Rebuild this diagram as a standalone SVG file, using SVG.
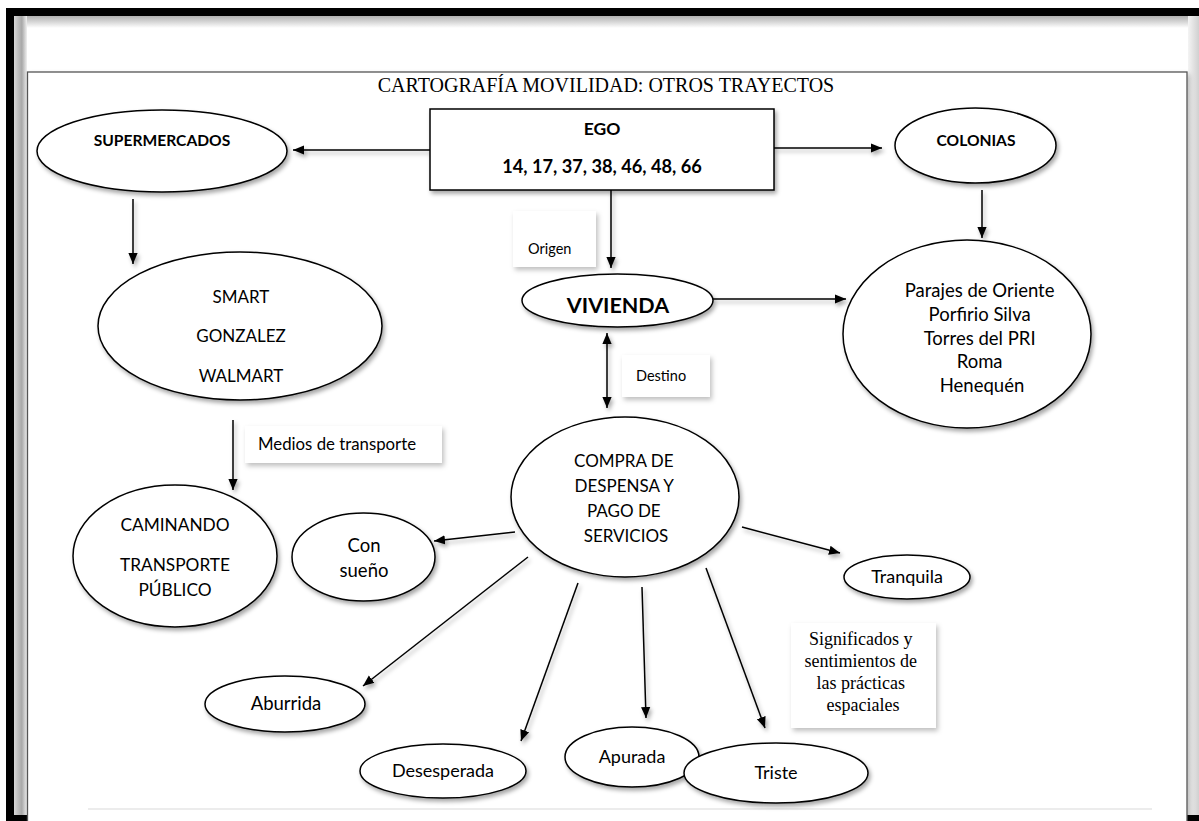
<svg xmlns="http://www.w3.org/2000/svg" width="1199" height="821" viewBox="0 0 1199 821">
  <defs>
    <style>
      .node { fill: #fff; stroke: #000; stroke-width: 1.5; }
      .label-box { fill: #fff; stroke: none; }
      .t { font-family: Lato, "Open Sans", "Liberation Sans", sans-serif; fill: #000; text-anchor: middle; }
      .s { font-family: Lato, "Open Sans", "Liberation Sans", sans-serif; fill: #000; text-anchor: start; }
      .b { font-weight: bold; }
      .serif { font-family: "Liberation Serif", "Times New Roman", serif; fill: #000; text-anchor: middle; }
      .conn line { stroke: #000; stroke-width: 1.5; fill: none; }
    </style>
    <filter id="shadow" filterUnits="userSpaceOnUse" x="0" y="0" width="1199" height="821">
      <feDropShadow dx="2" dy="3" stdDeviation="2" flood-color="#000" flood-opacity="0.35"/>
    </filter>
    <filter id="soft" filterUnits="userSpaceOnUse" x="0" y="0" width="1199" height="821">
      <feDropShadow dx="2" dy="3" stdDeviation="2.5" flood-color="#000" flood-opacity="0.25"/>
    </filter>
    <marker id="arrow" viewBox="0 0 10 10" refX="10" refY="5" markerWidth="11" markerHeight="11" markerUnits="userSpaceOnUse" orient="auto-start-reverse">
      <path d="M0,0.8 L10,5 L0,9.2 z" fill="#000"/>
    </marker>
    <linearGradient id="topShade" x1="0" y1="0" x2="0" y2="1">
      <stop offset="0" stop-color="#b0b0b0"/>
      <stop offset="1" stop-color="#ffffff"/>
    </linearGradient>
    <linearGradient id="leftShade" x1="0" y1="0" x2="1" y2="0">
      <stop offset="0" stop-color="#d8d8d8"/>
      <stop offset="0.6" stop-color="#a8a8a8"/>
      <stop offset="1" stop-color="#f0f0f0"/>
    </linearGradient>
    <linearGradient id="rightShade" x1="0" y1="0" x2="1" y2="0">
      <stop offset="0" stop-color="#f4f4f4"/>
      <stop offset="1" stop-color="#d0d0d0"/>
    </linearGradient>
  </defs>

  <!-- page background -->
  <rect x="0" y="0" width="1199" height="821" fill="#fff"/>

  <!-- page frame -->
  <g id="frame">
    <rect x="14" y="16" width="1185" height="12" fill="url(#topShade)"/>
    <rect x="14" y="16" width="13" height="799" fill="url(#leftShade)"/>
    <rect x="1188" y="16" width="11" height="799" fill="url(#rightShade)"/>
    <rect x="6" y="8" width="1193" height="8" fill="#000"/>
    <rect x="6" y="8" width="8" height="813" fill="#000"/>
    <rect x="6" y="815" width="1193" height="6" fill="#000"/>
    <rect x="27.5" y="72" width="1159.5" height="760" fill="#fff" stroke="#555" stroke-width="1.3" filter="url(#soft)"/>
    <line x1="88" y1="809" x2="1152" y2="809" stroke="#e6e6e6" stroke-width="1.5"/>
  </g>

  <!-- title -->
  <text id="title" class="serif" x="606" y="92" font-size="20">CARTOGRAFÍA MOVILIDAD: OTROS TRAYECTOS</text>

  <!-- connectors -->
  <g id="connectors" class="conn" filter="url(#shadow)">
    <line x1="430" y1="150" x2="293" y2="150" marker-end="url(#arrow)"/>
    <line x1="774" y1="148" x2="882" y2="148" marker-end="url(#arrow)"/>
    <line x1="133" y1="199" x2="133" y2="264" marker-end="url(#arrow)"/>
    <line x1="982" y1="190" x2="982" y2="238" marker-end="url(#arrow)"/>
    <line x1="611" y1="190" x2="611" y2="268" marker-end="url(#arrow)"/>
    <line x1="713" y1="299" x2="846" y2="299" marker-end="url(#arrow)"/>
    <line x1="607" y1="333" x2="607" y2="408" marker-start="url(#arrow)" marker-end="url(#arrow)"/>
    <line x1="233" y1="420" x2="233" y2="490" marker-end="url(#arrow)"/>
    <line x1="515" y1="532" x2="434" y2="541" marker-end="url(#arrow)"/>
    <line x1="528" y1="557" x2="363" y2="686" marker-end="url(#arrow)"/>
    <line x1="578" y1="583" x2="521" y2="741" marker-end="url(#arrow)"/>
    <line x1="642" y1="587" x2="646" y2="718" marker-end="url(#arrow)"/>
    <line x1="706" y1="568" x2="765" y2="728" marker-end="url(#arrow)"/>
    <line x1="742" y1="527" x2="840" y2="553" marker-end="url(#arrow)"/>
  </g>

  <!-- connector captions -->
  <g id="label-origen">
    <rect class="label-box" x="513" y="211" width="83" height="56" filter="url(#soft)"/>
    <text class="s" x="528" y="254" font-size="14.5">Origen</text>
  </g>
  <g id="label-destino">
    <rect class="label-box" x="622" y="355" width="88" height="42" filter="url(#soft)"/>
    <text class="s" x="636" y="381" font-size="14.5">Destino</text>
  </g>
  <g id="label-medios">
    <rect class="label-box" x="245" y="426" width="197" height="37" filter="url(#soft)"/>
    <text class="s" x="258" y="450" font-size="16.8">Medios de transporte</text>
  </g>
  <g id="label-significados">
    <rect class="label-box" x="791" y="623" width="145" height="105" filter="url(#soft)"/>
    <text class="serif" font-size="18">
      <tspan x="863" y="645">Significados y</tspan>
      <tspan x="863" y="667">sentimientos de</tspan>
      <tspan x="863" y="689">las prácticas</tspan>
      <tspan x="863" y="711">espaciales</tspan>
    </text>
  </g>

  <!-- nodes -->
  <g id="ego">
    <rect class="node" x="430" y="109" width="344" height="81" filter="url(#shadow)"/>
    <text class="t b" x="602" y="135" font-size="17.5">EGO</text>
    <text class="t b" x="602" y="173" font-size="18.2">14, 17, 37, 38, 46, 48, 66</text>
  </g>

  <g id="supermercados">
    <ellipse class="node" cx="162" cy="151" rx="125" ry="41" filter="url(#shadow)"/>
    <text class="t b" x="162" y="146" font-size="15.6">SUPERMERCADOS</text>
  </g>

  <g id="colonias">
    <ellipse class="node" cx="975.5" cy="145.5" rx="80.5" ry="37.5" filter="url(#shadow)"/>
    <text class="t b" x="976" y="146" font-size="15.6">COLONIAS</text>
  </g>

  <g id="tiendas">
    <ellipse class="node" cx="240" cy="326" rx="142" ry="74" filter="url(#shadow)"/>
    <text class="t" x="241" y="303" font-size="17">SMART</text>
    <text class="t" x="241" y="342" font-size="17">GONZALEZ</text>
    <text class="t" x="241" y="382" font-size="17">WALMART</text>
  </g>

  <g id="vivienda">
    <ellipse class="node" cx="617.5" cy="300.5" rx="95.5" ry="26.5" filter="url(#shadow)"/>
    <text class="t b" x="618" y="313" font-size="21.5">VIVIENDA</text>
  </g>

  <g id="colonias-lista">
    <ellipse class="node" cx="967" cy="334" rx="124" ry="94" filter="url(#shadow)"/>
    <text class="t" font-size="18.5">
      <tspan x="982" y="297">Parajes de Oriente</tspan>
      <tspan x="982" y="321">Porfirio Silva</tspan>
      <tspan x="982" y="345">Torres del PRI</tspan>
      <tspan x="982" y="368">Roma</tspan>
      <tspan x="982" y="392">Henequén</tspan>
    </text>
  </g>

  <g id="compra">
    <ellipse class="node" cx="625" cy="497" rx="114" ry="80" filter="url(#shadow)"/>
    <text class="t" font-size="17">
      <tspan x="626" y="467">COMPRA DE</tspan>
      <tspan x="626" y="492">DESPENSA Y</tspan>
      <tspan x="626" y="517">PAGO DE</tspan>
      <tspan x="626" y="542">SERVICIOS</tspan>
    </text>
  </g>

  <g id="transporte">
    <ellipse class="node" cx="175" cy="556" rx="102" ry="71" filter="url(#shadow)"/>
    <text class="t" x="175" y="531" font-size="17.3">CAMINANDO</text>
    <text class="t" x="175" y="571" font-size="17.3">TRANSPORTE</text>
    <text class="t" x="175" y="596" font-size="17.3">PÚBLICO</text>
  </g>

  <g id="con-sueno">
    <ellipse class="node" cx="363.5" cy="557" rx="71.5" ry="44" filter="url(#shadow)"/>
    <text class="t" x="364" y="552" font-size="18.5">Con</text>
    <text class="t" x="364" y="577" font-size="18.5">sueño</text>
  </g>

  <g id="tranquila">
    <ellipse class="node" cx="907" cy="577" rx="63" ry="22" filter="url(#shadow)"/>
    <text class="t" x="907" y="583" font-size="18">Tranquila</text>
  </g>

  <g id="aburrida">
    <ellipse class="node" cx="285" cy="704" rx="80" ry="28" filter="url(#shadow)"/>
    <text class="t" x="286" y="710" font-size="18.5">Aburrida</text>
  </g>

  <g id="desesperada">
    <ellipse class="node" cx="443" cy="771" rx="83" ry="27" filter="url(#shadow)"/>
    <text class="t" x="443" y="777" font-size="18">Desesperada</text>
  </g>

  <g id="apurada">
    <ellipse class="node" cx="632" cy="757" rx="67" ry="30" filter="url(#shadow)"/>
    <text class="t" x="632" y="763" font-size="18">Apurada</text>
  </g>

  <g id="triste">
    <ellipse class="node" cx="776" cy="773" rx="92" ry="30" filter="url(#shadow)"/>
    <text class="t" x="776" y="779" font-size="18">Triste</text>
  </g>
</svg>
